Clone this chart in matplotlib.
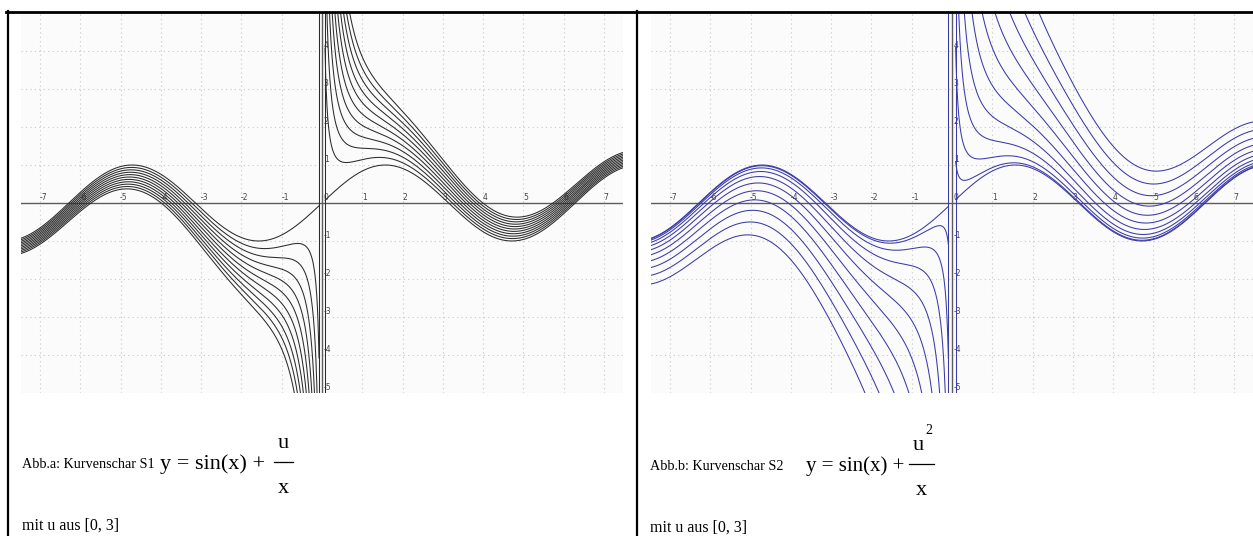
import numpy as np
import matplotlib
matplotlib.use("Agg")
import matplotlib.pyplot as plt
from matplotlib.lines import Line2D
from matplotlib.transforms import offset_copy

W, H, DPI = 1253, 536, 100

# Family parameter u taken from [0, 3]
u_values = [0.0, 0.3, 0.6, 0.9, 1.2, 1.5, 1.8, 2.1, 2.4, 2.7, 3.0]
# Power of u in the numerator: S1 -> u, S2 -> u^2
u_powers = [1, 2]

x_ticks = [-7, -6, -5, -4, -3, -2, -1, 1, 2, 3, 4, 5, 6, 7]
y_ticks = [-5, -4, -3, -2, -1, 1, 2, 3, 4]
x_limits = (-7.47, 7.47)
y_limits = (-5.0, 5.0)

# innermost sample either side of the pole at x = 0
pole_gap = [0.075, 0.09]
curve_colors = ["#2b2b2b", "#3a3aa8"]

captions = ["Abb.a: Kurvenschar S1", "Abb.b: Kurvenschar S2"]
range_text = "mit u aus [0, 3]"
numerators = ["u", "u"]
superscripts = ["", "2"]


def px_box(x0, y0, w, h):
    """Figure-fraction rectangle from pixel box (top-left origin)."""
    return [x0 / W, 1 - (y0 + h) / H, w / W, h / H]


def fx(x):
    return x / W


def fy(y):
    return 1 - y / H


fig = plt.figure(figsize=(W / DPI, H / DPI), dpi=DPI)
fig.patch.set_facecolor("white")

panel_left = [21, 651]
for k in range(2):
    ax = fig.add_axes(px_box(panel_left[k], 13, 602, 380))
    ax.set_facecolor("#fbfbfb")
    ax.set_xlim(*x_limits)
    ax.set_ylim(*y_limits)
    for s in ax.spines.values():
        s.set_visible(False)
    ax.set_xticks([t for t in x_ticks])
    ax.set_yticks([t for t in y_ticks])
    ax.tick_params(length=0, labelbottom=False, labelleft=False)
    ax.grid(True, color="#c8c8c8", linestyle=(0, (1, 3)), linewidth=0.8)
    ax.set_axisbelow(True)

    # coordinate axes
    ax.axhline(0, color="#5c5c5c", lw=1.0, zorder=2)
    ax.axvline(0, color="#5c5c5c", lw=1.0, zorder=2)

    # tick labels sitting on the axes
    tr = offset_copy(ax.transData, fig=fig, x=0.5, y=0.5, units="points")
    for t in x_ticks:
        ax.text(t - 0.03, 0, f"{t}", fontsize=5.5, color="#444444",
                ha="left", va="bottom", transform=tr, zorder=3)
    ax.text(0.02, 0, "0", fontsize=5.5, color="#444444",
            ha="left", va="bottom", transform=tr, zorder=3)
    for t in y_ticks:
        ax.text(0.03, t, f"{t}", fontsize=5.5, color="#444444",
                ha="left", va="bottom", transform=tr, zorder=3)

    # the family of curves, drawn branch by branch
    g = pole_gap[k]
    xl = np.linspace(x_limits[0] - 0.1, -g, 1500)
    xr = np.linspace(g, x_limits[1] + 0.1, 1500)
    for u in u_values:
        c = u ** u_powers[k]
        for xs in (xl, xr):
            ax.plot(xs, np.sin(xs) + c / xs, color=curve_colors[k],
                    lw=0.75, zorder=4, solid_joinstyle="round")
    # vertical strokes at the innermost samples
    ax.vlines([-g, g], y_limits[0], y_limits[1], color=curve_colors[k],
              lw=0.75, zorder=4)

# table rules
line_kw = dict(color="black", transform=fig.transFigure)
fig.add_artist(Line2D([fx(6), fx(1253)], [fy(12), fy(12)], lw=2.0, **line_kw))
fig.add_artist(Line2D([fx(7.5), fx(7.5)], [fy(11), fy(536)], lw=1.6, **line_kw))
fig.add_artist(Line2D([fx(636.5), fx(636.5)], [fy(11), fy(536)], lw=1.6, **line_kw))

serif = "Liberation Serif"
cap_x = [22, 650]
cap_y = [468, 470]
eq_x = [160, 806]
eq_size = [16, 15]
frac_x = [283, 921]
bar_half = [(9, 10), (12, 13)]
for k in range(2):
    fig.text(fx(cap_x[k]), fy(cap_y[k]), captions[k], family=serif,
             fontsize=10.2, va="baseline", ha="left")
    fig.text(fx(cap_x[k]), fy(cap_y[k] + 62), range_text, family=serif,
             fontsize=11.5, va="baseline", ha="left")
    fig.text(fx(eq_x[k]), fy(cap_y[k] + 1), "y = sin(x) +", family=serif,
             fontsize=eq_size[k], va="baseline", ha="left")
    # fraction u / x
    fx0 = frac_x[k]
    fig.text(fx(fx0 - (3 if superscripts[k] else 0)), fy(cap_y[k] - 20),
             numerators[k], family=serif, fontsize=16, va="baseline", ha="center")
    if superscripts[k]:
        fig.text(fx(fx0 + 4), fy(cap_y[k] - 36), superscripts[k], family=serif,
                 fontsize=10, va="baseline", ha="left")
    fig.add_artist(Line2D([fx(fx0 - bar_half[k][0]), fx(fx0 + bar_half[k][1])],
                          [fy(cap_y[k] - 6), fy(cap_y[k] - 6)],
                          lw=0.9, **line_kw))
    fig.text(fx(fx0), fy(cap_y[k] + 25), "x", family=serif,
             fontsize=16, va="baseline", ha="center")

fig.savefig("out.png", dpi=DPI)
